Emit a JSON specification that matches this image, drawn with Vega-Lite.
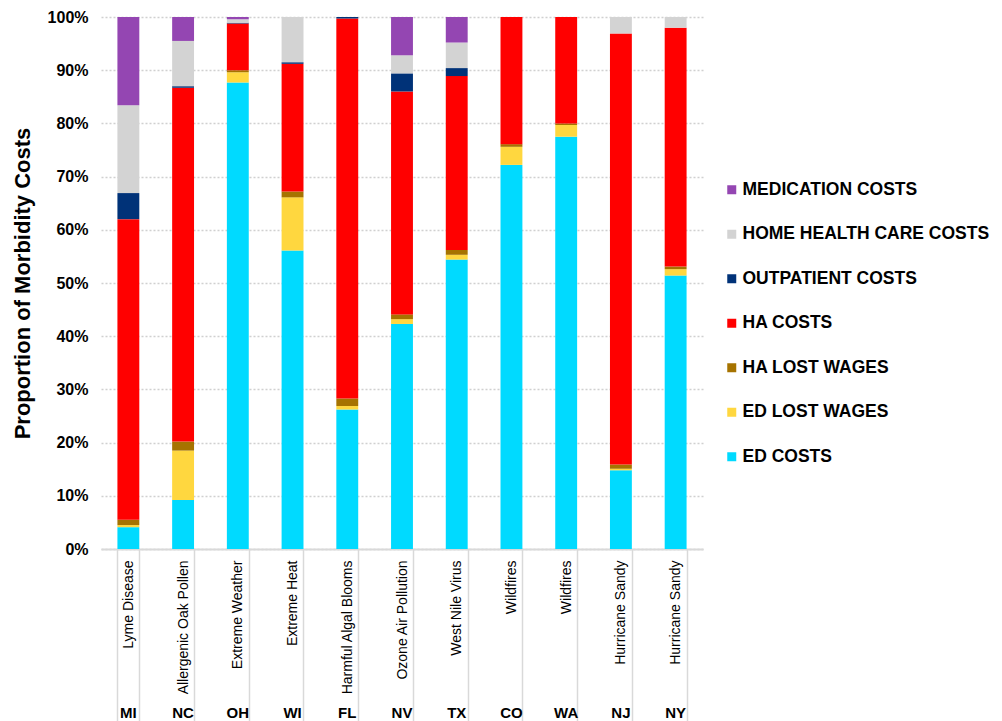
{
  "$schema": "https://vega.github.io/schema/vega-lite/v6.json",
  "width": 602,
  "height": 532,
  "autosize": {"type": "none"},
  "padding": {"left": 101, "top": 17, "right": 299, "bottom": 172},
  "background": "white",
  "config": {"view": {"stroke": null}, "font": "Liberation Sans"},
  "data": {
    "values": [
      {"cat": "Lyme Disease|MI", "ED COSTS": 4.1, "ED LOST WAGES": 0.4, "HA LOST WAGES": 1.0, "HA COSTS": 56.5, "OUTPATIENT COSTS": 4.9, "HOME HEALTH CARE COSTS": 16.5, "MEDICATION COSTS": 16.6},
      {"cat": "Allergenic Oak Pollen|NC", "ED COSTS": 9.2, "ED LOST WAGES": 9.3, "HA LOST WAGES": 1.7, "HA COSTS": 66.5, "OUTPATIENT COSTS": 0.3, "HOME HEALTH CARE COSTS": 8.5, "MEDICATION COSTS": 4.5},
      {"cat": "Extreme Weather|OH", "ED COSTS": 87.7, "ED LOST WAGES": 1.9, "HA LOST WAGES": 0.4, "HA COSTS": 8.8, "OUTPATIENT COSTS": 0.1, "HOME HEALTH CARE COSTS": 0.7, "MEDICATION COSTS": 0.4},
      {"cat": "Extreme Heat|WI", "ED COSTS": 56.1, "ED LOST WAGES": 10.0, "HA LOST WAGES": 1.1, "HA COSTS": 24.0, "OUTPATIENT COSTS": 0.3, "HOME HEALTH CARE COSTS": 8.5, "MEDICATION COSTS": 0},
      {"cat": "Harmful Algal Blooms|FL", "ED COSTS": 26.2, "ED LOST WAGES": 0.7, "HA LOST WAGES": 1.4, "HA COSTS": 71.4, "OUTPATIENT COSTS": 0.3, "HOME HEALTH CARE COSTS": 0, "MEDICATION COSTS": 0},
      {"cat": "Ozone Air Pollution|NV", "ED COSTS": 42.3, "ED LOST WAGES": 0.9, "HA LOST WAGES": 0.9, "HA COSTS": 41.9, "OUTPATIENT COSTS": 3.4, "HOME HEALTH CARE COSTS": 3.4, "MEDICATION COSTS": 7.2},
      {"cat": "West Nile Virus|TX", "ED COSTS": 54.4, "ED LOST WAGES": 0.9, "HA LOST WAGES": 0.9, "HA COSTS": 32.7, "OUTPATIENT COSTS": 1.5, "HOME HEALTH CARE COSTS": 4.8, "MEDICATION COSTS": 4.8},
      {"cat": "Wildfires|CO", "ED COSTS": 72.2, "ED LOST WAGES": 3.4, "HA LOST WAGES": 0.5, "HA COSTS": 23.9, "OUTPATIENT COSTS": 0, "HOME HEALTH CARE COSTS": 0, "MEDICATION COSTS": 0},
      {"cat": "Wildfires|WA", "ED COSTS": 77.5, "ED LOST WAGES": 2.2, "HA LOST WAGES": 0.3, "HA COSTS": 20.0, "OUTPATIENT COSTS": 0, "HOME HEALTH CARE COSTS": 0, "MEDICATION COSTS": 0},
      {"cat": "Hurricane Sandy|NJ", "ED COSTS": 14.8, "ED LOST WAGES": 0.3, "HA LOST WAGES": 0.8, "HA COSTS": 81.0, "OUTPATIENT COSTS": 0, "HOME HEALTH CARE COSTS": 3.1, "MEDICATION COSTS": 0},
      {"cat": "Hurricane Sandy|NY", "ED COSTS": 51.4, "ED LOST WAGES": 1.2, "HA LOST WAGES": 0.5, "HA COSTS": 44.9, "OUTPATIENT COSTS": 0, "HOME HEALTH CARE COSTS": 2.0, "MEDICATION COSTS": 0}
    ]
  },
  "transform": [
    {"fold": ["ED COSTS", "ED LOST WAGES", "HA LOST WAGES", "HA COSTS", "OUTPATIENT COSTS", "HOME HEALTH CARE COSTS", "MEDICATION COSTS"], "as": ["cost", "share"]},
    {"calculate": "indexof(['ED COSTS', 'ED LOST WAGES', 'HA LOST WAGES', 'HA COSTS', 'OUTPATIENT COSTS', 'HOME HEALTH CARE COSTS', 'MEDICATION COSTS'], datum.cost)", "as": "stackOrder"}
  ],
  "layer": [
    {
      "mark": {"type": "bar"},
      "encoding": {
        "x": {
          "field": "cat", "type": "nominal", "sort": null,
          "scale": {"paddingInner": 0.6, "paddingOuter": 0.3},
          "axis": {
            "orient": "bottom", "title": null,
            "labelExpr": "isString(datum.value) ? split(datum.value, '|')[0] : ''",
            "labelAngle": 270, "labelAlign": "right", "labelBaseline": "middle",
            "labelFontSize": 14, "labelColor": "black", "labelPadding": -161,
            "labelOverlap": false, "labelLimit": 0,
            "ticks": true, "tickBand": "extent", "tickSize": 172, "tickColor": "#d9d9d9", "tickWidth": 1.5,
            "domainColor": "#d9d9d9", "domainWidth": 2, "grid": false
          }
        },
        "y": {
          "field": "share", "type": "quantitative", "stack": "normalize",
          "axis": {
            "title": "Proportion of Morbidity Costs",
            "format": ".0%",
            "values": [0, 0.1, 0.2, 0.3, 0.4, 0.5, 0.6, 0.7, 0.8, 0.9, 1],
            "domain": false, "ticks": false,
            "labelFontSize": 16, "labelFontWeight": "bold", "labelColor": "black", "labelPadding": 13,
            "grid": true, "gridColor": "#d0d0d0", "gridDash": [2, 2], "gridWidth": 1.5,
            "titleFontSize": 22, "titleFontWeight": "bold", "titleColor": "black",
            "titleX": -79, "titleY": 266, "titleAngle": 270, "titleAlign": "center", "titleBaseline": "middle"
          }
        },
        "order": {"field": "stackOrder", "type": "quantitative", "sort": "ascending"},
        "color": {
          "field": "cost", "type": "nominal",
          "sort": ["MEDICATION COSTS", "HOME HEALTH CARE COSTS", "OUTPATIENT COSTS", "HA COSTS", "HA LOST WAGES", "ED LOST WAGES", "ED COSTS"],
          "scale": {
            "domain": ["MEDICATION COSTS", "HOME HEALTH CARE COSTS", "OUTPATIENT COSTS", "HA COSTS", "HA LOST WAGES", "ED LOST WAGES", "ED COSTS"],
            "range": ["#9446B2", "#D3D3D3", "#003278", "#FF0000", "#A67300", "#FFD73F", "#00DAFF"]
          },
          "legend": {
            "orient": "none", "legendX": 622, "legendY": 164, "title": null,
            "symbolType": "square", "symbolSize": 81, "symbolStrokeWidth": 0,
            "labelFontSize": 17.5, "labelFontWeight": "bold", "labelColor": "black",
            "rowPadding": 25.5, "labelOffset": 2, "padding": 0, "labelLimit": 400
          }
        }
      }
    },
    {
      "mark": {"type": "rule", "strokeOpacity": 0},
      "encoding": {
        "x": {
          "field": "cat", "type": "nominal", "sort": null,
          "axis": {
            "orient": "bottom", "title": null,
            "labelExpr": "isString(datum.value) ? split(datum.value, '|')[1] : ''",
            "labelAngle": 0, "labelAlign": "center", "labelBaseline": "middle",
            "labelFontSize": 15, "labelFontWeight": "bold", "labelColor": "black", "labelPadding": 163,
            "labelOverlap": false,
            "ticks": false, "domain": false, "grid": false
          }
        }
      }
    }
  ],
  "resolve": {"axis": {"x": "independent"}}
}
